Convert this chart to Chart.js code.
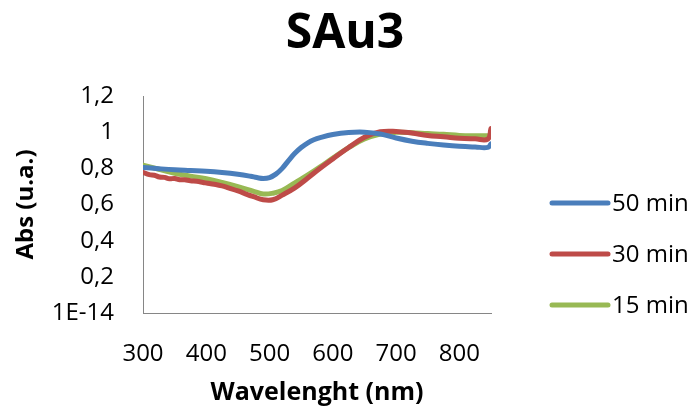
<!DOCTYPE html>
<html>
<head>
<meta charset="utf-8">
<script src="https://cdn.jsdelivr.net/npm/chart.js@4.4.1/dist/chart.umd.min.js"></script>
<style>
  html, body { margin: 0; padding: 0; background: #ffffff; }
  #wrap { width: 694px; height: 412px; }
</style>
</head>
<body>
<div id="wrap"><canvas id="c" width="694" height="412"></canvas></div>
<script>
// UV-Vis absorbance spectra of sample SAu3 at three reaction times
const chartTitle = 'SAu3';
const seriesNames = ['50 min', '30 min', '15 min'];
const seriesColors = ['#4A7EBB', '#BE4B48', '#98B954'];

const wl50 = [300, 325, 350, 375, 400, 425, 450, 470, 480, 490, 500, 510, 520, 530, 540, 550, 560, 570, 580, 600, 625, 650, 675, 700, 725, 750, 775, 800, 825, 845, 850];
const abs50 = [0.805, 0.798, 0.792, 0.788, 0.784, 0.777, 0.767, 0.756, 0.749, 0.744, 0.749, 0.768, 0.800, 0.843, 0.883, 0.915, 0.940, 0.958, 0.970, 0.987, 0.998, 1.000, 0.990, 0.968, 0.950, 0.938, 0.929, 0.922, 0.918, 0.916, 0.935];

const wl30 = [300, 310, 318, 326, 334, 342, 350, 358, 366, 375, 385, 395, 405, 415, 425, 435, 450, 465, 475, 490, 505, 520, 540, 560, 580, 600, 625, 650, 675, 700, 725, 750, 775, 800, 825, 845, 850];
const abs30 = [0.778, 0.765, 0.762, 0.752, 0.750, 0.742, 0.744, 0.737, 0.737, 0.731, 0.728, 0.722, 0.716, 0.711, 0.703, 0.692, 0.675, 0.655, 0.643, 0.626, 0.626, 0.652, 0.692, 0.745, 0.800, 0.852, 0.915, 0.972, 1.002, 1.004, 0.995, 0.982, 0.975, 0.966, 0.963, 0.962, 1.020];

const wl15 = [300, 325, 350, 375, 400, 425, 450, 475, 490, 505, 520, 540, 560, 580, 600, 625, 650, 675, 700, 725, 750, 775, 800, 825, 845, 850];
const abs15 = [0.818, 0.795, 0.773, 0.757, 0.742, 0.722, 0.699, 0.673, 0.658, 0.662, 0.677, 0.720, 0.762, 0.808, 0.857, 0.915, 0.962, 0.990, 0.999, 0.997, 0.992, 0.988, 0.982, 0.980, 0.980, 0.980];

const xTicks = [300, 400, 500, 600, 700, 800];
const yTickStep = 0.2;

const FONT = "'Open Sans', 'Noto Sans', sans-serif";

function toPoints(xs, ys) {
  return xs.map((x, i) => ({ x: x, y: ys[i] }));
}

const wlSets = [wl50, wl30, wl15];
const absSets = [abs50, abs30, abs15];

const datasets = seriesNames.map((name, i) => ({
  label: name,
  data: toPoints(wlSets[i], absSets[i]),
  borderColor: seriesColors[i],
  backgroundColor: seriesColors[i],
  borderWidth: 5,
  pointRadius: 0,
  tension: 0.4,
  borderCapStyle: 'round',
  borderJoinStyle: 'round',
  fill: false
}));

// Title centred on the whole canvas, legend at the right with line samples
const titleAndLegend = {
  id: 'titleAndLegend',
  afterDraw(chart) {
    const ctx = chart.ctx;
    ctx.save();
    ctx.fillStyle = '#000000';
    ctx.font = 'bold 48px ' + FONT;
    ctx.textAlign = 'center';
    ctx.textBaseline = 'middle';
    ctx.fillText(chartTitle, 345, 34);

    const x0 = 552, x1 = 608, tx = 612;
    const ys = [203, 254, 305];
    ctx.font = '24px ' + FONT;
    ctx.textAlign = 'left';
    chart.data.datasets.forEach((ds, i) => {
      ctx.strokeStyle = ds.borderColor;
      ctx.lineWidth = 5;
      ctx.lineCap = 'round';
      ctx.beginPath();
      ctx.moveTo(x0, ys[i]);
      ctx.lineTo(x1, ys[i]);
      ctx.stroke();
      ctx.fillStyle = '#000000';
      ctx.fillText(ds.label, tx, ys[i] + 1);
    });
    ctx.restore();
  }
};

new Chart(document.getElementById('c'), {
  type: 'line',
  data: { datasets: datasets },
  plugins: [titleAndLegend],
  options: {
    responsive: false,
    devicePixelRatio: 1,
    animation: false,
    layout: { padding: { left: 0, right: 203, top: 96, bottom: 0 } },
    plugins: {
      legend: { display: false },
      tooltip: { enabled: false },
      title: { display: false }
    },
    scales: {
      x: {
        type: 'linear',
        min: 300,
        max: 850,
        afterBuildTicks(scale) { scale.ticks = xTicks.map(v => ({ value: v })); },
        afterFit(scale) { scale.height = 99; },
        grid: { display: false, drawTicks: false },
        border: { display: true, color: '#868686', width: 1 },
        ticks: {
          color: '#000000',
          font: { family: FONT, size: 24 },
          padding: 27,
          maxRotation: 0,
          autoSkip: false
        },
        title: {
          display: true,
          text: 'Wavelenght (nm)',
          color: '#000000',
          font: { family: FONT, size: 25, weight: 'bold', lineHeight: 1.2 },
          padding: { top: 0, bottom: 4 }
        }
      },
      y: {
        type: 'linear',
        min: 0,
        max: 1.2,
        afterFit(scale) { scale.width = 143; },
        grid: { display: false, drawTicks: false },
        border: { display: true, color: '#868686', width: 1 },
        ticks: {
          stepSize: yTickStep,
          color: '#000000',
          font: { family: FONT, size: 24 },
          padding: 29,
          callback(v) {
            if (Math.abs(v) < 1e-9) return '1E-14';
            return String(Math.round(v * 10) / 10).replace('.', ',');
          }
        },
        title: {
          display: true,
          text: 'Abs (u.a.)',
          color: '#000000',
          font: { family: FONT, size: 24, weight: 'bold', lineHeight: 1.2 },
          padding: { top: 12, bottom: 0 }
        }
      }
    }
  }
});
</script>
</body>
</html>
